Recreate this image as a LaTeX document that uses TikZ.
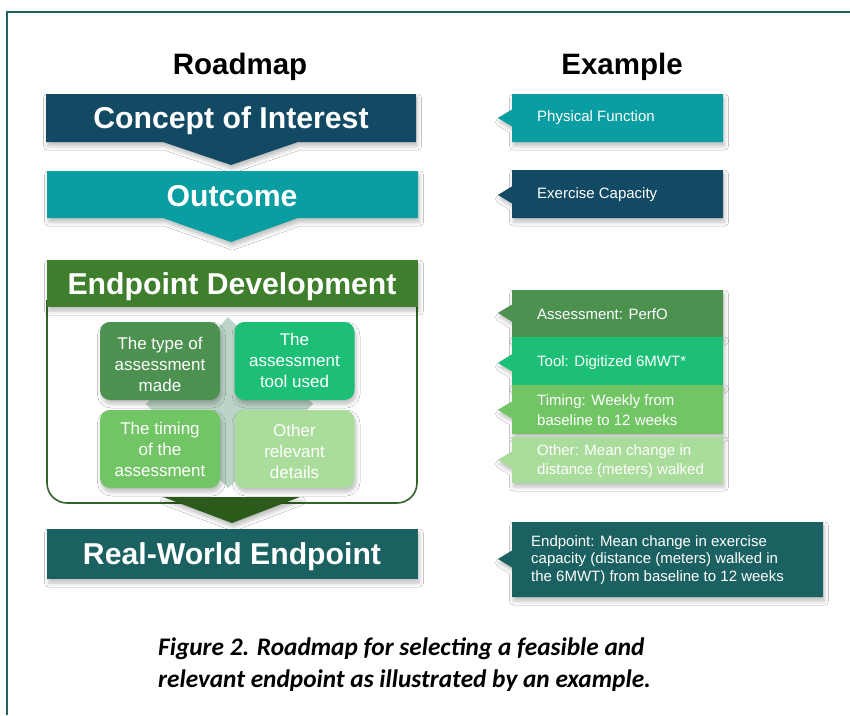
\documentclass[tikz,border=0pt]{standalone}
\usepackage{fontspec}
\setmainfont{Liberation Sans}
\newfontfamily\capfont{Carlito}
\usetikzlibrary{shapes.callouts,shadows.blur}
\definecolor{navy}{RGB}{19,74,99}
\definecolor{tealc}{RGB}{10,157,161}
\definecolor{hgreen}{RGB}{63,126,44}
\definecolor{qone}{RGB}{76,145,80}
\definecolor{qtwo}{RGB}{29,191,119}
\definecolor{qthree}{RGB}{114,197,101}
\definecolor{qfour}{RGB}{170,220,155}
\definecolor{dteal}{RGB}{27,97,97}
\definecolor{framec}{RGB}{31,98,96}
\definecolor{contc}{RGB}{47,100,38}
\definecolor{arrowg}{RGB}{44,90,26}
\definecolor{diamc}{RGB}{188,211,199}
\tikzset{
  shad/.style={blur shadow={shadow xshift=1.5pt, shadow yshift=-4pt, shadow blur radius=4pt, shadow opacity=25}},
  hdr/.style={font=\bfseries\fontsize{29.5}{33}\selectfont, text=black},
  ttl/.style={font=\bfseries\fontsize{30.2}{33}\selectfont, text=white},
  qbox/.style={rounded corners=10pt, minimum width=120, minimum height=78, shad},
  qtext/.style={text=white, align=center, font=\fontsize{17}{21}\selectfont},
  callbox/.style={rectangle callout, callout pointer width=17pt, inner sep=0pt, shad},
  ctext/.style={text=white, anchor=west, align=left, inner sep=0pt, font=\fontsize{15}{19.5}\selectfont},
}
\begin{document}
\begin{tikzpicture}[x=1pt,y=-1pt]
\useasboundingbox (0,0) rectangle (850,715);
\fill[white] (0,0) rectangle (850,715);
% frame
\draw[framec, line width=1.6pt] (7,715) -- (7,12) -- (850,12);
% headers
\node[hdr] (hroad) at (240,67) {Roadmap};
\node[hdr] (hex) at (622,67) {Example};
% Concept of Interest
\fill[navy, shad] (46,94) -- (416,94) -- (416,142) -- (298,142) -- (231,165) -- (163,142) -- (46,142) -- cycle;
\node[ttl] (coi) at (231,120.5) {Concept of Interest};
% Outcome
\fill[tealc, shad] (47,171) -- (418,171) -- (418,218) -- (298,218) -- (231,242) -- (163,218) -- (47,218) -- cycle;
\node[ttl] (out) at (232,196) {Outcome};
% Endpoint development container
\draw[contc, line width=1.6pt, rounded corners=20pt] (47,300) -- (47,503) -- (417,503) -- (417,300);
\fill[hgreen, shad] (47,260) rectangle (418,307);
\node[ttl] (epd) at (232,286.5) {Endpoint Development};
% diamond
\fill[diamc] (228,317) -- (313,404) -- (228,488) -- (146,404) -- cycle;
% quadrants
\node[qbox, fill=qone] (q1b) at (160,361) {};
\node[qbox, fill=qtwo] (q2b) at (294.5,361) {};
\node[qbox, fill=qthree] (q3b) at (160,449) {};
\node[qbox, fill=qfour] (q4b) at (294.5,449) {};
\node[qtext] (q1) at (160,364) {The type of\\assessment\\made};
\node[qtext] (q2) at (294.5,360) {The\\assessment\\tool used};
\node[qtext] (q3) at (160,449) {The timing\\of the\\assessment};
\node[qtext] (q4) at (294.5,451) {Other\\relevant\\details};
% bottom arrow
\fill[arrowg, shad] (163,497) -- (300,497) -- (232,523) -- cycle;
% Real-World Endpoint
\fill[dteal, shad] (47,529) rectangle (418,579);
\node[ttl] (rwe) at (232,556.5) {Real-World Endpoint};
% Example callouts
\node[callbox, fill=tealc, minimum width=211, minimum height=48, callout absolute pointer={(498,118)}] (e1) at (617.5,118) {};
\node[ctext] (e1t) at (537,118) {Physical Function};
\node[callbox, fill=navy, minimum width=211, minimum height=48, callout absolute pointer={(498,195)}] (e2) at (617.5,194) {};
\node[ctext] (e2t) at (537,194.5) {Exercise Capacity};
\node[callbox, fill=qone, minimum width=211, minimum height=47, callout absolute pointer={(498,313)}] (e3) at (617.5,313.5) {};
\node[ctext] (e3t) at (537,314) {Assessment: PerfO};
\node[callbox, fill=qtwo, minimum width=211, minimum height=48, callout absolute pointer={(498,363)}] (e4) at (617.5,361) {};
\node[ctext] (e4t) at (537,363) {Tool: Digitized 6MWT*};
\node[callbox, fill=qthree, minimum width=211, minimum height=49, callout absolute pointer={(498,410)}] (e5) at (617.5,409.5) {};
\node[ctext] (e5t) at (537,410) {Timing: Weekly from\\baseline to 12 weeks};
\node[callbox, fill=qfour, minimum width=211, minimum height=46, callout absolute pointer={(498,460)}] (e6) at (617.5,460) {};
\node[ctext] (e6t) at (537,461) {Other: Mean change in\\distance (meters) walked};
\node[callbox, fill=dteal, minimum width=311, minimum height=75, callout absolute pointer={(498,559)}] (e7) at (667.5,559.5) {};
\node[ctext, font=\fontsize{15}{17.5}\selectfont] (e7t) at (531,560) {Endpoint: Mean change in exercise\\capacity (distance (meters) walked in\\the 6MWT) from baseline to 12 weeks};
% caption
\node[anchor=west, align=left, inner sep=0pt, font=\capfont\bfseries\itshape\fontsize{25.3}{32}\selectfont] (cap) at (158,665) {Figure 2. Roadmap for selecting a feasible and\\relevant endpoint as illustrated by an example.};
\end{tikzpicture}
\end{document}
